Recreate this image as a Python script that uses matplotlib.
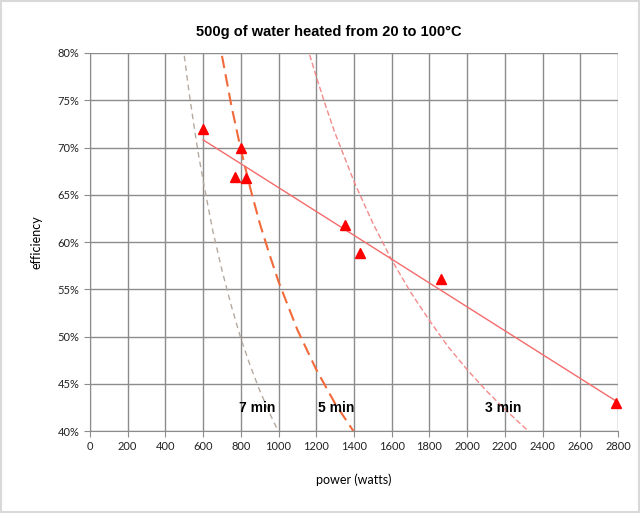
import matplotlib
matplotlib.use('Agg')
import matplotlib.pyplot as plt
import numpy as np
from matplotlib.ticker import PercentFormatter

# measured points
power = [600, 800, 770, 830, 1350, 1430, 1860, 2790]
efficiency = [0.72, 0.70, 0.669, 0.668, 0.618, 0.588, 0.561, 0.430]

# time curves
p7 = [500, 525, 550, 575, 600, 650, 700, 750, 800, 850, 900, 950, 1000]
e7 = [0.797, 0.759, 0.725, 0.693, 0.665, 0.613, 0.570, 0.532, 0.498, 0.469,
      0.443, 0.420, 0.399]
p5 = [700, 750, 800, 850, 900, 950, 1000, 1100, 1200, 1300, 1400]
e5 = [0.797, 0.744, 0.698, 0.657, 0.620, 0.588, 0.558, 0.507, 0.465, 0.429, 0.399]
p3 = [1165, 1200, 1250, 1300, 1400, 1500, 1600, 1700, 1800, 1900, 2000, 2100,
      2200, 2330]
e3 = [0.798, 0.775, 0.744, 0.715, 0.664, 0.620, 0.581, 0.547, 0.517, 0.489,
      0.465, 0.443, 0.423, 0.399]

curve_labels = ['7 min', '5 min', '3 min']
label_x = [885, 1305, 2190]
label_y = [0.424, 0.424, 0.424]

plt.rcParams['font.family'] = ['Liberation Sans', 'DejaVu Sans']

fig = plt.figure(figsize=(6.4, 5.13), dpi=100)
ax = fig.add_axes([0.1406, 0.1598, 0.825, 0.7369])

grid_col = '#8c8c8c'
ax.set_xlim(0, 2800)
ax.set_ylim(0.40, 0.80)
ax.set_xticks(np.arange(0, 2801, 200))
ax.set_yticks(np.arange(0.40, 0.801, 0.05))
ax.yaxis.set_major_formatter(PercentFormatter(1.0, decimals=0))
ax.grid(True, color=grid_col, linewidth=1)
ax.set_axisbelow(True)
for s in ['top', 'right']:
    ax.spines[s].set_visible(False)
for s in ['left', 'bottom']:
    ax.spines[s].set_color(grid_col)
ax.tick_params(colors=grid_col, labelcolor='#222222', labelsize=8, length=4)
for lbl in ax.get_xticklabels() + ax.get_yticklabels():
    lbl.set_family(['Lato', 'DejaVu Sans'])

# curves
ax.plot(p7, e7, color='#b5aaa0', linestyle=(0, (4, 3)), linewidth=1)
ax.plot(p5, e5, color='#f26a3a', linestyle=(0, (6, 3)), linewidth=1.5)
ax.plot(p3, e3, color='#f58a8a', linestyle=(0, (4, 2)), linewidth=1)

# trend line
k, b = np.polyfit(power, efficiency, 1)
xs = np.array([min(power), max(power)])
ax.plot(xs, k * xs + b, color='#f56a6a', linewidth=1)

ax.plot(power, efficiency, linestyle='none', marker='^', color='#ff0000',
        markersize=7, clip_on=False)

for lab, x, y in zip(curve_labels, label_x, label_y):
    ax.text(x, y, lab, ha='center', va='center', fontsize=10, fontweight='bold')

fig.text(0.513, 0.938, '500g of water heated from 20 to 100°C', ha='center',
         va='center', fontsize=10.5, fontweight='bold')
ax.set_xlabel('power (watts)', fontsize=9, labelpad=15, family=['Lato', 'DejaVu Sans'])
ax.set_ylabel('efficiency', fontsize=9, labelpad=11, family=['Lato', 'DejaVu Sans'])

fig.patches.append(plt.Rectangle((0.001, 0.001), 0.997, 0.997, transform=fig.transFigure,
                                 fill=False, edgecolor='#d9d9d9', linewidth=1.5))

fig.savefig('out.png', dpi=100)
